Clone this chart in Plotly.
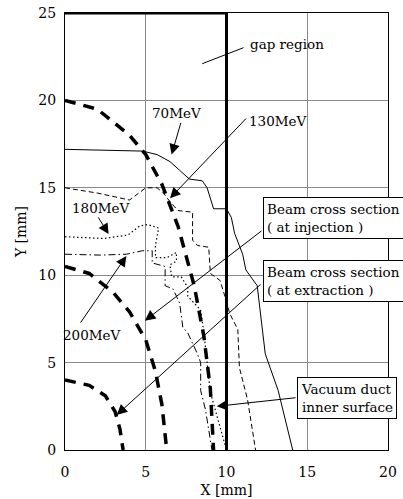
import plotly.graph_objects as go

# ---- data (mm) ----
# beam cross sections (thick dashed)
inj_big_x = [0, 2, 4, 5, 6, 7, 8, 8.6, 9.0, 9.2]
inj_big_y = [20, 19.5, 18.0, 16.9, 15.2, 12.8, 9.4, 6.5, 3.5, 0]
mid_x = [0, 1.5, 3, 4, 5, 5.6, 6.0, 6.3]
mid_y = [10.5, 10.1, 9.0, 7.9, 6.3, 4.5, 2.6, 0]
ext_small_x = [0, 1.5, 2.5, 3.1, 3.4, 3.6]
ext_small_y = [4.0, 3.7, 3.1, 2.2, 1.2, 0]

# apertures
e70_x = [0, 4.8, 5.7, 6.5, 7.1, 7.7, 8.5, 8.8, 9.2, 10.0, 10.3, 10.5, 11.0, 11.2, 11.9, 12.0, 12.4, 13.2, 14.1]
e70_y = [17.2, 17.1, 16.9, 16.5, 16.0, 15.5, 15.4, 15.0, 13.8, 13.8, 13.3, 12.4, 11.2, 10.3, 9.4, 8.6, 5.5, 3.4, 0]
e130_x = [0, 2, 4, 5.0, 5.7, 6.1, 6.5, 7.0, 7.9, 7.9, 8.2, 8.9, 9.0, 9.6, 9.9, 10.2, 10.7, 10.8, 11.3, 11.8]
e130_y = [15.0, 14.7, 14.3, 15.0, 15.0, 14.7, 14.2, 13.7, 13.6, 12.0, 11.7, 11.6, 10.1, 9.7, 8.8, 7.8, 6.9, 4.7, 2.9, 0]
e180_x = [0, 2.4, 3.9, 4.6, 5.1, 5.8, 5.6, 5.6, 6.3, 6.9, 6.9, 6.5, 6.6, 7.2, 7.6, 7.6, 8.4, 8.6, 9.0, 9.6, 10.0]
e180_y = [12.2, 12.1, 12.3, 12.8, 12.9, 12.7, 11.7, 11.0, 11.0, 11.3, 10.8, 10.6, 9.9, 9.9, 9.3, 8.8, 8.0, 6.7, 3.3, 1.3, 0]
e200_x = [0, 2.2, 3.8, 4.8, 5.4, 5.4, 6.2, 6.2, 6.7, 7.1, 7.3, 7.6, 8.2, 8.4, 8.4, 8.7, 9.1]
e200_y = [11.2, 11.15, 11.2, 11.4, 11.4, 10.7, 10.5, 9.4, 9.2, 8.4, 7.0, 6.7, 5.5, 5.0, 3.4, 2.3, 0]

# vacuum duct
duct_x = [0, 10, 10]
duct_y = [25, 25, 0]

tick_vals_x = [0, 5, 10, 15, 20]
tick_vals_y = [0, 5, 10, 15, 20, 25]

FONT = "DejaVu Serif"
FS = 13.5
TFS = 14

fig = go.Figure()

def add(x, y, width, dash):
    fig.add_trace(go.Scatter(x=x, y=y, mode="lines",
                             line=dict(color="black", width=width, dash=dash),
                             showlegend=False, hoverinfo="skip"))

add(e70_x, e70_y, 1, "solid")
add(e130_x, e130_y, 1, "5px,3px")
add(e180_x, e180_y, 1.2, "1.5px,2.5px")
add(e200_x, e200_y, 1, "7px,3px,1.5px,3px")
add(inj_big_x, inj_big_y, 3.5, "11px,8px")
add(mid_x, mid_y, 3.5, "11px,8px")
add(ext_small_x, ext_small_y, 3.5, "11px,8px")
add(duct_x, duct_y, 3, "solid")

ann = []

def arrow(x, y, ax, ay):
    ann.append(dict(x=x, y=y, ax=ax, ay=ay, xref="x", yref="y", axref="x", ayref="y",
                    text="", showarrow=True, arrowhead=2, arrowsize=2.1,
                    arrowwidth=1, arrowcolor="black"))

def line(x, y, ax, ay):
    ann.append(dict(x=x, y=y, ax=ax, ay=ay, xref="x", yref="y", axref="x", ayref="y",
                    text="", showarrow=True, arrowhead=0, arrowwidth=1, arrowcolor="black"))

def label(x, y, text, xanchor="center", yanchor="middle", box=False):
    d = dict(x=x, y=y, xref="x", yref="y", text=text, showarrow=False,
             xanchor=xanchor, yanchor=yanchor, align="left",
             font=dict(family=FONT, size=FS, color="black"))
    if box:
        d.update(bordercolor="black", borderwidth=1, borderpad=3, bgcolor="white")
    ann.append(d)

# gap region
line(8.5, 22.1, 11.15, 23.05)
label(11.3, 23.2, "gap region", xanchor="left")
# 70 MeV
label(6.9, 19.3, "70MeV")
arrow(6.6, 16.9, 7.2, 18.8)
# 130 MeV
label(11.25, 18.8, "130MeV", xanchor="left")
arrow(6.5, 14.4, 11.3, 19.05)
# 180 MeV
label(2.2, 13.85, "180MeV")
arrow(2.7, 12.35, 2.0, 13.4)
# 200 MeV
label(1.7, 6.6, "200MeV")
arrow(3.8, 11.1, 0.9, 7.2)
# beam cross-section injection
label(12.26, 14.47, "Beam cross section<br>( at injection )", xanchor="left", yanchor="top", box=True)
arrow(4.95, 7.4, 12.26, 12.6)
# extraction
label(12.26, 10.87, "Beam cross section<br>( at extraction )", xanchor="left", yanchor="top", box=True)
arrow(3.2, 2.0, 12.2, 9.55)
# vacuum duct
label(14.37, 4.18, "Vacuum duct<br>inner surface", xanchor="left", yanchor="top", box=True)
arrow(9.4, 2.5, 14.37, 3.0)

axis_common = dict(showgrid=True, gridcolor="#8a8a8a", gridwidth=1, zeroline=False,
                   showline=True, linecolor="black", linewidth=1, mirror=True,
                   ticks="", tickfont=dict(family=FONT, size=TFS, color="black"),
                   title_font=dict(family=FONT, size=TFS, color="black"),
                   automargin=False)

fig.update_layout(
    width=403, height=499,
    margin=dict(l=65, r=15, t=13, b=49),
    paper_bgcolor="white", plot_bgcolor="white",
    annotations=ann,
    xaxis=dict(range=[0, 20], tickvals=tick_vals_x, ticklabelstandoff=9,
               title=dict(text="X [mm]", standoff=6), **axis_common),
    yaxis=dict(range=[0, 25], tickvals=tick_vals_y, ticklabelstandoff=5,
               title=dict(text="Y [mm]", standoff=8), **axis_common),
)

fig.write_html("out.html")
